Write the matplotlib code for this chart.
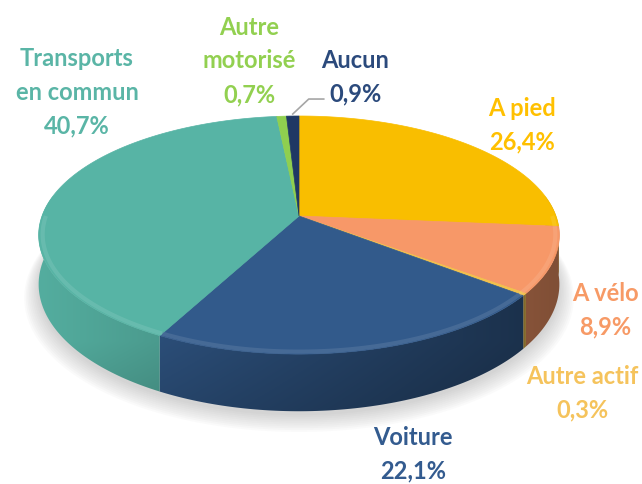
import numpy as np
import matplotlib
matplotlib.use("Agg")
import matplotlib.pyplot as plt
from matplotlib.patches import Polygon
from matplotlib.colors import to_rgb

# Données (parts modales, en %)
categories = ["A pied", "A vélo", "Autre actif", "Voiture",
              "Transports\nen commun", "Autre\nmotorisé", "Aucun"]
values = [26.4, 8.9, 0.3, 22.1, 40.7, 0.7, 0.9]

# Style
slice_colors = ["#F9BE00", "#F79868", "#F2C14C", "#325A8B", "#57B4A5", "#8FCF4F", "#1F3864"]
label_colors = ["#FFC000", "#F79A66", "#F5C35C", "#335B8F", "#5AB5A6", "#92D050", "#2B4A7C"]
label_pos = [(522, 125), (605, 310), (582, 393), (413, 454), (77, 92), (249, 61), (355, 77)]

# Géométrie du camembert 3D (perspective simple)
cx, cy = 299, 217
R, A, K, H = 257, 116, 0.16, 48


def proj(t, r=1.0, z=0.0):
    """Projette un point du disque (angle t en degrés) vers l'écran."""
    t = np.radians(t)
    d = r * np.sin(t)
    f = 1.0 / (1.0 + K * d)
    x = cx + R * r * np.cos(t) * f
    y = cy + (-A * d + H * z) * f
    return x, y


def lighten(color, s):
    c = np.array(to_rgb(color))
    return tuple(c + (1 - c) * s)


fig = plt.figure(figsize=(6.42, 4.85), dpi=100)
ax = fig.add_axes([0, 0, 1, 1])
ax.set_xlim(0, 642)
ax.set_ylim(485, 0)
ax.axis("off")

# Ombre portée
tt = np.linspace(0, 360, 361)
for i in range(10):
    bx, by = proj(tt, 1.0 + i * 0.006, 1.0)
    ax.add_patch(Polygon(np.column_stack([bx, by + 4 + i * 0.8]), closed=True,
                         facecolor="#808080", edgecolor="none", alpha=0.035, zorder=1))

# Angles des parts (sens horaire depuis midi)
cum = np.concatenate([[0], np.cumsum(values)])
starts = 90 - cum[:-1] * 3.6
ends = 90 - cum[1:] * 3.6

# grille pour le dégradé des faces latérales
gx, gy = np.meshgrid(np.arange(642) + 0.5, np.arange(485) + 0.5)
u = np.clip((gx - cx) / R, -1, 1)
light = 0.74 - 0.22 * u
yb = proj(-90, z=1)[1]
vert = 1.0 - 0.12 * np.clip((gy - (yb - 70)) / 70, 0, 1)
side_shade = (light * vert)[..., None]

# Faces latérales
vis_lo, vis_hi = -190, 10
for s, e, col in zip(starts, ends, slice_colors):
    for off in (0, -360):
        lo, hi = max(e + off, vis_lo), min(s + off, vis_hi)
        if hi <= lo:
            continue
        ts = np.linspace(hi, lo, max(int(hi - lo), 2) + 1)
        tx, ty = proj(ts)
        bx, by = proj(ts[::-1], z=1)
        poly = Polygon(np.column_stack([np.r_[tx, bx], np.r_[ty, by]]), closed=True,
                       facecolor="none", edgecolor="none", zorder=2)
        ax.add_patch(poly)
        img = np.clip(np.array(to_rgb(col))[None, None, :] * side_shade, 0, 1)
        im = ax.imshow(img, extent=(0, 642, 485, 0), interpolation="bilinear", zorder=2)
        im.set_clip_path(poly)

ax.set_xlim(0, 642)
ax.set_ylim(485, 0)

# Faces supérieures
for s, e, col in zip(starts, ends, slice_colors):
    ts = np.linspace(s, e, max(int(abs(s - e)), 2) + 1)
    px, py = proj(ts)
    pts = np.vstack([[cx, cy], np.column_stack([px, py])])
    ax.add_patch(Polygon(pts, closed=True, facecolor=col, edgecolor=col, lw=0.5, zorder=3))
    # liseré clair (biseau) sur l'avant
    lo, hi = max(e, -180), min(s, 0)
    if hi > lo:
        tb = np.linspace(hi, lo, 60)
        bx, by = proj(tb, 0.985)
        ax.plot(bx, by, color=lighten(col, 0.22), lw=3, alpha=0.45,
                solid_capstyle="butt", zorder=4)

# Ligne de rappel pour "Aucun"
mid = 0.5 * (starts[-1] + ends[-1])
lx, ly = proj(mid)
ax.plot([lx, lx + 16, lx + 31], [ly - 2, ly - 17, ly - 17], color="#A6A6A6", lw=1.2, zorder=5)

# Étiquettes
for cat, v, col, (x, y) in zip(categories, values, label_colors, label_pos):
    txt = f"{cat}\n{v:.1f}".replace(".", ",") + "%"
    ax.text(x, y, txt, color=col, fontsize=17, fontweight="bold", family="Lato",
            ha="center", va="center", linespacing=1.55, zorder=6)

fig.savefig("out.png", dpi=100)
